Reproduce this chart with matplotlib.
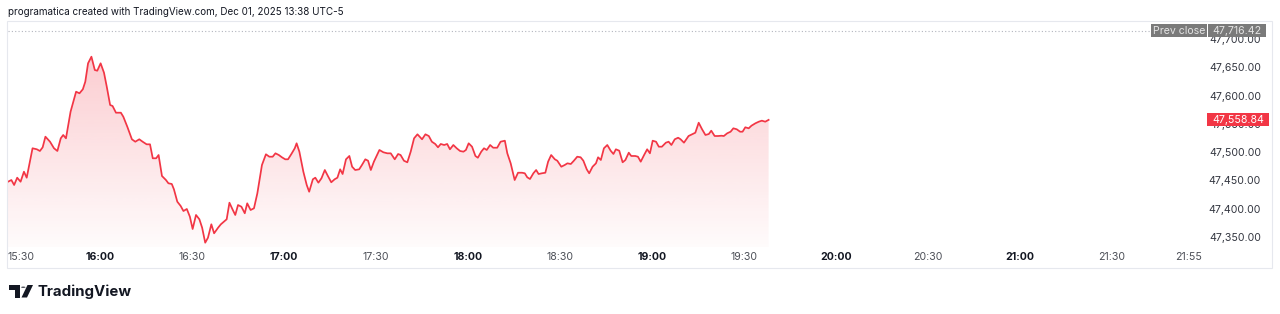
import matplotlib
matplotlib.use("Agg")
import matplotlib.pyplot as plt
import numpy as np
from matplotlib.patches import Rectangle, Polygon, Circle
from matplotlib.transforms import blended_transform_factory

# ---- data (minutes after 15:30, price) ----
minutes = [0, 1.1, 2, 3, 4.1, 5.2, 6.1, 8, 9.4, 10.4, 11.3, 12.2, 13.7, 15, 16.1, 17.2, 18, 18.9,
           20.4, 22.2, 23.3, 24.4, 25.2, 26.1, 27.2, 28.3, 29.1, 30.2, 31.3, 32.2, 33.3, 34.1,
           35.2, 36.8, 37.6, 38.9, 40.4, 41.5, 42.8, 43.9, 45.2, 46.3, 47.2, 48.3, 49.1,
           50.2, 51.5, 52.3, 53.4, 54.1, 55.2, 56.3, 57.2, 58.3, 59.3, 60.2, 61.3, 62.4, 63.3,
           64.3, 65.2, 66.3, 67.2, 68.5, 69.4, 70.4, 71.3, 72.2, 73.3, 74.1, 75, 76.1, 77.2,
           78, 79.1, 80.2, 81.3, 82.8, 84.1, 85.2, 86.3, 87.2, 88.3, 89.3, 90.4, 91.3, 92.4,
           93.5, 94.1, 95, 96.3, 97.4, 98.2,
           99.4, 100.2, 101.2, 102.2, 103.3, 104.3, 105.4, 106.5, 107.4, 108.3, 109.1, 110.2,
           111.3, 112.2, 113.2, 114.5, 115.4, 116.5, 117.4, 118.3, 119.3, 121.1, 122.4, 123.7,
           124.8, 126.1, 127.2, 128, 129.1, 130.2, 131.3, 132.4, 133.5, 135, 136.1, 137.2,
           138.2, 139.3, 140.2, 141.1, 142.2, 143.2, 144.1, 145.2, 146.3, 147.4, 148.5, 149.3,
           150.2, 151.3, 152.4, 153.2, 154.3, 155.2, 156.1, 157.2, 158.2, 159.5, 160.6, 162,
           162.8, 163.9, 165.2, 166.3, 167.6, 168.5, 169.3, 170.2, 171.3, 172.2, 173, 174.1,
           175.2, 176.1, 177.1, 178.3, 179.1, 180.4, 181.5, 182.4, 183.5, 184.5, 185.6, 186.7,
           187.6, 188.7, 189.5, 190.6, 191.7, 192.4, 193.3, 194.3, 195.4, 196.5, 197.4, 198.2,
           199.3, 200.4, 201.3, 202.4, 203.2, 204.5, 205.4, 206.3, 207.4, 208.4, 209.3, 210.2,
           211.3, 212.2, 213.2, 214.5, 215.4, 216.3, 217.4, 218.5, 219.3, 220.4, 221.9, 223.2,
           224.1, 225.2, 226.3, 227.4, 228.5, 229.3, 230.4, 231.5, 232.6, 233.4, 234.5, 235.6,
           236.5, 237.6, 238.7, 239.5, 240.4, 241.5, 242.4, 243.7, 244.8, 245.8, 246.9, 248]
prices = [47449.5, 47452.5, 47443.7, 47456.6, 47449.5, 47467.2, 47456.6, 47508.6, 47506.8,
          47503.8, 47510.3, 47529.1, 47520.2, 47508.6, 47503.8, 47526.2, 47532.1, 47526.2,
          47573.3, 47608.6, 47605.8, 47612.9, 47626.3, 47658.8, 47670.5, 47647.0, 47645.7,
          47658.8, 47642.2, 47617.5, 47585.1, 47583.3, 47571.5, 47571.5, 47564.4, 47546.7,
          47524.5, 47520.2, 47524.5, 47520.2, 47515.6, 47515.6, 47490.9, 47490.9, 47496.7,
          47459.6, 47452.5, 47446.7, 47445.5, 47436.1, 47414.2, 47406.6, 47397.7, 47401.3,
          47387.7, 47365.9, 47390.7, 47383.1, 47368.2, 47341.7, 47350.5, 47374.2, 47358.3,
          47368.2, 47374.2, 47378.8, 47383.1, 47412.4, 47399.5, 47390.7, 47408.3, 47405.3,
          47393.7, 47411.3, 47399.5, 47402.5, 47429.0, 47479.0, 47498.0, 47493.7, 47493.7,
          47499.7, 47496.7, 47492.7, 47489.1, 47489.1, 47498.5, 47508.6, 47517.4, 47502.6,
          47467.2, 47443.7, 47431.8,
          47453.8, 47456.6, 47447.8, 47455.5, 47470.2, 47459.6, 47448.5, 47453.8, 47456.6,
          47471.4, 47463.1, 47489.1, 47495.0, 47476.0, 47470.2, 47471.4, 47479.0, 47489.1,
          47486.6, 47470.2, 47484.9, 47505.6, 47501.5, 47499.7, 47499.7, 47489.1, 47498.5,
          47496.7, 47486.6, 47483.8, 47502.6, 47526.2, 47533.3, 47524.5, 47533.3, 47530.3,
          47520.2, 47516.2, 47510.3, 47516.2, 47514.4, 47516.2, 47506.8, 47514.4, 47508.6,
          47503.8, 47502.6, 47505.6, 47517.4, 47511.4, 47495.0, 47491.9, 47502.6, 47508.6,
          47505.6, 47514.4, 47509.6, 47509.6, 47520.2, 47522.0, 47499.7, 47482.0, 47452.5,
          47465.4, 47465.4, 47464.4, 47457.3, 47454.3, 47464.4, 47470.2, 47463.1, 47464.4,
          47465.4, 47484.9, 47496.7, 47489.1, 47486.6, 47476.0, 47479.0, 47482.0, 47480.8,
          47486.6, 47493.7, 47492.7, 47486.6, 47471.4, 47464.4, 47476.0, 47482.0, 47492.7,
          47487.9, 47508.6, 47514.4, 47504.3, 47498.5, 47506.8, 47504.3, 47483.8, 47487.9,
          47500.8, 47495.0, 47495.0, 47493.7, 47484.9, 47496.7, 47506.8, 47499.7, 47522.0,
          47520.2, 47511.4, 47511.4, 47518.5, 47520.2, 47514.4, 47524.5, 47527.3, 47524.5,
          47518.5, 47530.3, 47533.8, 47536.1, 47553.8, 47542.2, 47532.1, 47533.8, 47539.7,
          47530.3, 47530.3, 47530.8, 47530.3, 47535.1, 47537.9, 47543.9, 47542.2, 47537.9,
          47537.9, 47545.7, 47543.9, 47548.5, 47552.8, 47555.6, 47557.4, 47555.6, 47558.84]

time_tick_minutes = [0, 30, 60, 90, 120, 150, 180, 210, 240, 270, 300, 330, 360, 385]
time_tick_labels = ["15:30", "16:00", "16:30", "17:00", "17:30", "18:00", "18:30",
                    "19:00", "19:30", "20:00", "20:30", "21:00", "21:30", "21:55"]
time_tick_bold = [False, True, False, True, False, True, False, True, False, True, False,
                  True, False, False]
price_ticks = [47350, 47400, 47450, 47500, 47550, 47600, 47650, 47700]
prev_close = 47716.42
last_price = 47558.84
header = "programatica created with TradingView.com, Dec 01, 2025 13:38 UTC-5"

# ---- figure ----
W, H = 1280, 314
fig = plt.figure(figsize=(W / 100, H / 100), dpi=100)
fig.patch.set_facecolor("white")
FONT = ["Inter", "DejaVu Sans"]
RED = "#f23645"
DARK = "#131722"


def fx(x):
    return x / W


def fy(y):
    return 1 - y / H


# pane in pixels
PX0, PX1, PY0, PY1 = 8, 1205, 21, 247
ax = fig.add_axes([fx(PX0), fy(PY1), fx(PX1) - fx(PX0), fy(PY0) - fy(PY1)])
ppm = 3.067          # pixels per minute
ppu = 0.5657         # pixels per price unit
ax.set_xlim(0, (PX1 - PX0) / ppm)
ymin = 47350 - (PY1 - 238) / ppu
ymax = 47350 + (238 - PY0) / ppu
ax.set_ylim(ymin, ymax)
ax.axis("off")

x = np.array(minutes)
y = np.array(prices)

# gradient fill
poly = ax.fill_between(x, y, ymin, facecolor="none", edgecolor="none")
grad = np.linspace(0.02, 0.25, 256).reshape(-1, 1)
rgba = np.zeros((256, 1, 4))
rgba[..., 0] = 242 / 255
rgba[..., 1] = 54 / 255
rgba[..., 2] = 69 / 255
rgba[..., 3] = grad
im = ax.imshow(rgba, extent=[x.min(), x.max(), ymin, y.max()], aspect="auto",
               origin="lower", zorder=1, interpolation="bilinear")
im.set_clip_path(poly.get_paths()[0], transform=ax.transData)
ax.set_xlim(0, (PX1 - PX0) / ppm)
ax.set_ylim(ymin, ymax)

ax.plot(x, y, color=RED, lw=1.25, zorder=3, solid_joinstyle="round")

# prev close dotted line (to the tag)
ax.plot([0, (1150 - PX0) / ppm], [prev_close, prev_close], color="#b2b5be", lw=0.8,
        linestyle=(0, (1, 2)), zorder=2)

# frame
fig.add_artist(Rectangle((fx(7), fy(268)), fx(1272) - fx(7), fy(21) - fy(268),
                         transform=fig.transFigure, fill=False, edgecolor="#e6e8ee",
                         lw=0.8))

# header
fig.text(fx(8), fy(12), header, fontsize=7.1, color=DARK, family=FONT, va="center",
         ha="left")

# time axis labels
tx = blended_transform_factory(ax.transData, fig.transFigure)
for m, lab, b in zip(time_tick_minutes, time_tick_labels, time_tick_bold):
    ha = "left" if m == 0 else "center"
    fig.text(m, fy(257), lab, transform=tx, fontsize=7.6,
             color=DARK if b else "#4c4f57", fontweight="bold" if b else "normal",
             family=FONT, ha=ha, va="center")

# price labels
py = blended_transform_factory(fig.transFigure, ax.transData)
for p in price_ticks:
    fig.text(fx(1261), p, f"{p:,.2f}", transform=py, fontsize=7.6, color="#333640",
             family=FONT, ha="right", va="center", zorder=5)


def tag(x0, x1, yc, h, color, text, tcolor, zorder=10):
    fig.add_artist(Rectangle((fx(x0), fy(yc + h / 2)), fx(x1) - fx(x0), h / H,
                             transform=fig.transFigure, facecolor=color,
                             edgecolor="none", zorder=zorder))
    fig.text(fx((x0 + x1) / 2), fy(yc), text, fontsize=7.6, color=tcolor, family=FONT,
             ha="center", va="center", zorder=zorder + 1)


ycp = 238 - (prev_close - 47350) * ppu
tag(1151, 1207, ycp, 13, "#7a7a7a", "Prev close", "#e4e4e4")
tag(1208, 1266, ycp, 13, "#7a7a7a", f"{prev_close:,.2f}", "#e4e4e4")
ylp = 238 - (last_price - 47350) * ppu
tag(1207, 1269, ylp, 13, RED, f"{last_price:,.2f}", "white")

# TradingView logo
c = DARK
fig.add_artist(Polygon([(fx(9), fy(285)), (fx(19.5), fy(285)), (fx(19.5), fy(297.5)),
                        (fx(15), fy(297.5)), (fx(15), fy(289.5)), (fx(9), fy(289.5))],
                       closed=True, transform=fig.transFigure, facecolor=c,
                       edgecolor="none"))
fig.add_artist(Circle((fx(23.3), fy(287.2)), 2.2 / W, transform=fig.transFigure,
                      facecolor=c, edgecolor="none"))
fig.add_artist(Polygon([(fx(27.5), fy(285)), (fx(33), fy(285)), (fx(27), fy(297.5)),
                        (fx(21.5), fy(297.5))], closed=True, transform=fig.transFigure,
                       facecolor=c, edgecolor="none"))
fig.text(fx(37), fy(291.5), "TradingView", fontsize=10.8, fontweight="bold", color=c,
         family=FONT, ha="left", va="center")

fig.savefig("out.png", dpi=100, facecolor="white")
